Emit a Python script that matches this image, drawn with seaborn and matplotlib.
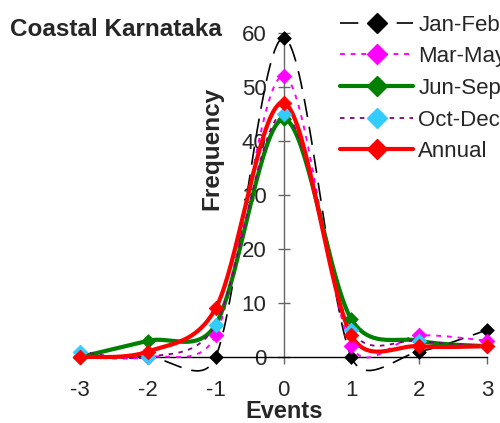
import numpy as np
import pandas as pd
import matplotlib
matplotlib.use("Agg")
import matplotlib.pyplot as plt
from matplotlib.lines import Line2D
import seaborn as sns

# ---- data ----
events = [-3, -2, -1, 0, 1, 2, 3]
jan_feb = [0, 0, 0, 59, 0, 1, 5]
mar_may = [0, 0, 4, 52, 2, 4, 3]
jun_sep = [0, 3, 6, 44, 7, 3, 2]
oct_dec = [1, 0, 6, 45, 5, 3, 2]
annual = [0, 1, 9, 47, 4, 2, 2]
series_names = ["Jan-Feb", "Mar-May", "Jun-Sep", "Oct-Dec", "Annual"]
series_values = [jan_feb, mar_may, jun_sep, oct_dec, annual]
title = "Coastal Karnataka"
y_ticks = [0, 10, 20, 30, 40, 50, 60]

sns.set_theme(style="white")
plt.rcParams["font.family"] = ["Liberation Sans", "DejaVu Sans"]

FIG_W, FIG_H, DPI = 5.0, 4.23, 100
AX_RECT = [0.16, 0.156, 0.814, 0.767]
XLIM, YLIM = (-3, 3), (0, 60)
SX = AX_RECT[2] * FIG_W * DPI / (XLIM[1] - XLIM[0])   # px per x unit
SY = AX_RECT[3] * FIG_H * DPI / (YLIM[1] - YLIM[0])   # px per y unit


def smooth_curve(x, y, n=40):
    """Excel-style smoothed line: Bezier with tangents (P2-P0)/6, limited to
    half of the segment length (computed in screen space)."""
    P = np.column_stack([np.asarray(x, float) * SX, np.asarray(y, float) * SY])
    E = np.vstack([P[0], P, P[-1]])
    t = np.linspace(0, 1, n)[:, None]
    out = []
    for i in range(len(P) - 1):
        p0, p1, p2, p3 = E[i], E[i + 1], E[i + 2], E[i + 3]
        d12 = np.linalg.norm(p2 - p1)
        d02 = np.linalg.norm(p2 - p0)
        d13 = np.linalg.norm(p3 - p1)
        f1 = 1 / 6 if d02 / 6 < d12 / 2 else (d12 / (2 * d02) if d02 > 0 else 0)
        f2 = 1 / 6 if d13 / 6 < d12 / 2 else (d12 / (2 * d13) if d13 > 0 else 0)
        c1 = p1 + f1 * (p2 - p0)
        c2 = p2 - f2 * (p3 - p1)
        seg = (1 - t) ** 3 * p1 + 3 * (1 - t) ** 2 * t * c1 + 3 * (1 - t) * t ** 2 * c2 + t ** 3 * p2
        out.append(seg if i == 0 else seg[1:])
    s = np.vstack(out)
    return pd.DataFrame({"x": s[:, 0] / SX, "y": s[:, 1] / SY})


styles = {
    "Jan-Feb": dict(color="black", lw=1.2, ls=(0, (11, 6)), mfc="black", ms=7),
    "Mar-May": dict(color="#FF00FF", lw=1.4, ls=(0, (2.5, 3)), mfc="#FF00FF", ms=7.5),
    "Jun-Sep": dict(color="#008000", lw=3.0, ls="-", mfc="#008000", ms=7),
    "Oct-Dec": dict(color="#800080", lw=1.3, ls=(0, (2.5, 3)), mfc="#33CCFF", ms=7.5),
    "Annual": dict(color="#FF0000", lw=3.0, ls="-", mfc="#FF0000", ms=7.5),
}

fig = plt.figure(figsize=(FIG_W, FIG_H), dpi=DPI)
ax = fig.add_axes(AX_RECT)

handles = []
for name, vals in zip(series_names, series_values):
    st = styles[name]
    curve = smooth_curve(events, vals)
    sns.lineplot(data=curve, x="x", y="y", sort=False, estimator=None, ax=ax,
                 color=st["color"], linewidth=st["lw"], linestyle=st["ls"],
                 clip_on=False, zorder=3)
    pts = pd.DataFrame({"x": events, "y": vals})
    sns.scatterplot(data=pts, x="x", y="y", ax=ax, marker="D", s=st["ms"] ** 2,
                    color=st["mfc"], edgecolor=st["mfc"], linewidth=0.5,
                    clip_on=False, zorder=4)
    handles.append(Line2D([], [], color=st["color"], lw=st["lw"], ls=st["ls"],
                          marker="D", markersize=10,
                          markerfacecolor=st["mfc"], markeredgecolor=st["mfc"]))

ax.set_xlim(*XLIM)
ax.set_ylim(*YLIM)
ax.set_xticks(events)
ax.set_xticklabels([str(e) for e in events])
ax.set_yticks(y_ticks)
ax.set_xlabel("")
ax.set_ylabel("")

for s in ["top", "right"]:
    ax.spines[s].set_visible(False)
ax.spines["left"].set_position(("data", 0))
ax.spines["left"].set_color("#666666")
ax.spines["left"].set_linewidth(1.0)
ax.spines["bottom"].set_color("black")
ax.spines["bottom"].set_linewidth(1.0)
ax.spines["left"].set_zorder(1)

ax.tick_params(axis="y", direction="inout", length=8.6, width=1.0, color="#666666",
               pad=7.9, labelsize=16, left=True)
ax.tick_params(axis="x", direction="out", length=5, width=1.0, color="#666666",
               pad=11.5, labelsize=16, bottom=True)
ax.grid(False)
ax.set_facecolor("none")
fig.patch.set_facecolor("white")

fig.text(10 / 500, 1 - 36 / 423, title, fontsize=17.5, fontweight="bold",
         ha="left", va="baseline")
fig.text(212 / 500, 1 - 148 / 423, "Frequency", fontsize=17.5, fontweight="bold",
         rotation=90, ha="center", va="center")
fig.text(284.5 / 500, 1 - 418 / 423, "Events", fontsize=17, fontweight="bold",
         ha="center", va="baseline")

fig.legend(handles, series_names, loc="upper left",
           bbox_to_anchor=(340 / 500, 1 - 14.5 / 423), frameon=False, fontsize=16,
           handlelength=3.3, handletextpad=0.22, labelspacing=0.48,
           borderpad=0, borderaxespad=0, numpoints=1)

fig.savefig("out.png", dpi=DPI)
